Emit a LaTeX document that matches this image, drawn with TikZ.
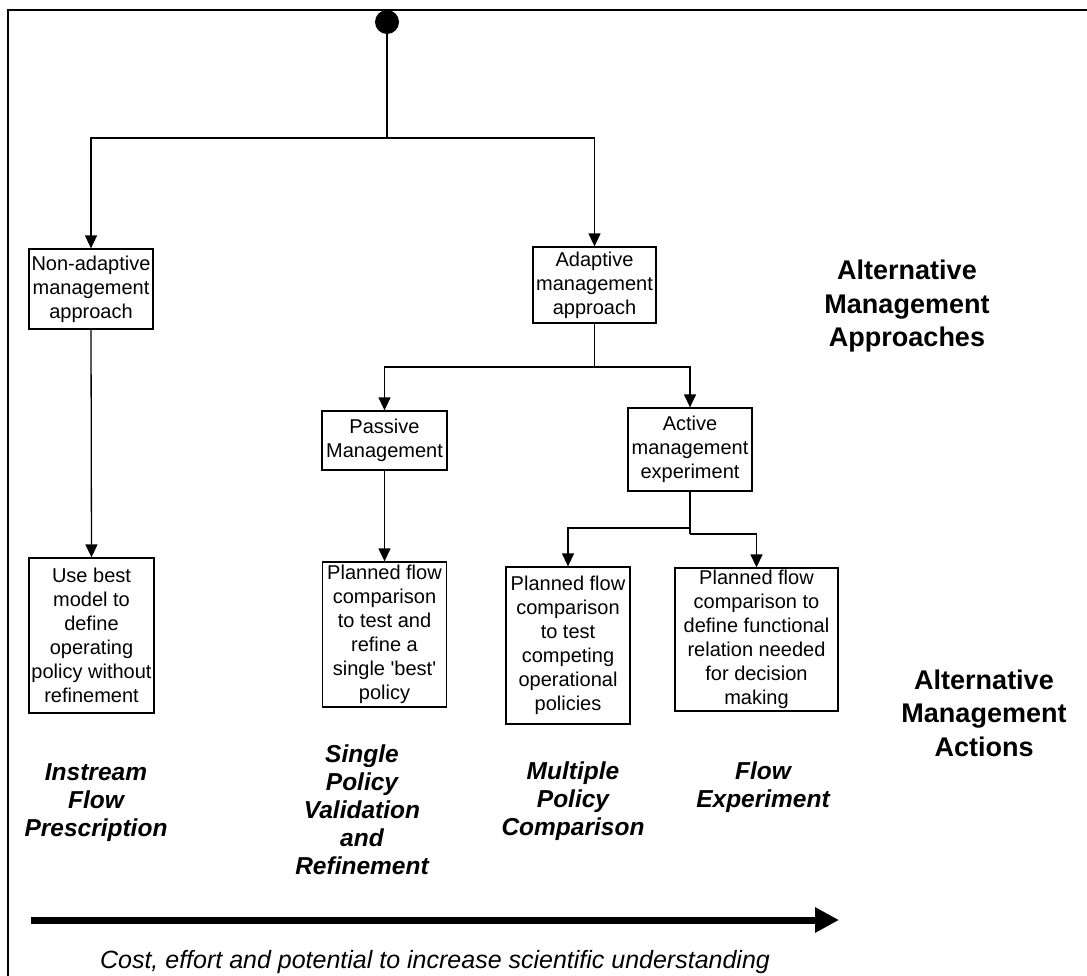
\documentclass[tikz,border=0pt]{standalone}
\usepackage{fontspec}
\setmainfont{Liberation Sans}
\usetikzlibrary{arrows.meta}
\tikzset{
  box/.style={draw, line width=1.3pt, inner sep=0pt, align=center, font=\fontsize{20}{24}\selectfont},
  conn/.style={line width=1.3pt},
  arr/.style={conn, -{Triangle[length=13pt,width=12pt]}},
  hdr/.style={font=\fontsize{27}{33.5}\selectfont\bfseries, align=center, inner sep=0pt},
  act/.style={font=\fontsize{24.5}{28}\selectfont\bfseries\itshape, align=center, inner sep=0pt},
  costlbl/.style={font=\fontsize{25}{30}\selectfont\itshape, inner sep=0pt},
  frameline/.style={line width=2pt},
}
\begin{document}
\begin{tikzpicture}[x=1pt,y=-1pt]
\useasboundingbox (0,0) rectangle (1087,975);
% frame
\coordinate (fbl) at (8,980);
\coordinate (ftl) at (8,10);
\coordinate (ftr) at (1092,10);
\draw[frameline] (fbl) -- (ftl) -- (ftr);

% start dot
\node[circle, fill, minimum size=24pt, inner sep=0pt] (dot) at (387,22) {};

% boxes
\node[box, minimum width=124pt, minimum height=80pt] (nonad) at (91,289) {Non-adaptive\\management\\approach};
\node[box, minimum width=123pt, minimum height=76pt] (adapt) at (594.5,285) {Adaptive\\management\\approach};
\node[box, minimum width=125pt, minimum height=59pt] (passive) at (384.5,440.5) {Passive\\Management};
\node[box, minimum width=124pt, minimum height=83pt] (active) at (690,449.5) {Active\\management\\experiment};
\node[box, minimum width=125pt, minimum height=155pt] (usebest) at (91.5,635.5) {Use best\\model to\\define\\operating\\policy without\\refinement};
\node[box, minimum width=124pt, minimum height=145pt] (plana) at (384.5,634.5) {Planned flow\\comparison\\to test and\\refine a\\single {\textquotesingle}best{\textquotesingle}\\policy};
\node[box, minimum width=124pt, minimum height=157pt] (planb) at (568,645.5) {Planned flow\\comparison\\to test\\competing\\operational\\policies};
\node[box, minimum width=163pt, minimum height=143pt] (planc) at (756.5,639.5) {Planned flow\\comparison to\\define functional\\relation needed\\for decision\\making};

% junctions
\coordinate (ja) at (387,138);
\coordinate (jb) at (594.5,367);
\coordinate (jc) at (690,528);
\coordinate (jd) at (690,534);

% connectors
\draw[conn] (dot.south) -- (ja);
\draw[arr] (ja) -| (nonad.north);
\draw[arr] (ja) -| (adapt.north);
\draw[arr] (nonad.south) -- (usebest.north);
\draw[conn] (adapt.south) -- (jb);
\draw[arr] (jb) -| (passive.north);
\draw[arr] (jb) -| (active.north);
\draw[arr] (passive.south) -- (plana.north);
\draw[conn] (active.south) -- (jd);
\draw[arr] (jc) -| (planb.north);
\draw[arr] (jd) -| (planc.north);

% headings
\node[hdr] (hdrapp) at (907,306.5) {Alternative\\Management\\Approaches};
\node[hdr] (hdract) at (984,713) {Alternative\\Management\\Actions};

% action labels
\node[act] (lblinst) at (96,803) {Instream\\Flow\\Prescription};
\node[act] (lblsing) at (362,810) {Single\\Policy\\Validation\\and\\Refinement};
\node[act] (lblmult) at (573,801.5) {Multiple\\Policy\\Comparison};
\node[act] (lblflow) at (763,787.5) {Flow\\Experiment};

% big arrow
\coordinate (bigs) at (31,920);
\coordinate (bige) at (839,920);
\draw[line width=7pt, -{Triangle[length=24pt,width=24pt]}] (bigs) -- (bige);
\node[costlbl, anchor=base] (cost) at (435,968) {Cost, effort and potential to increase scientific understanding};
\end{tikzpicture}
\end{document}
